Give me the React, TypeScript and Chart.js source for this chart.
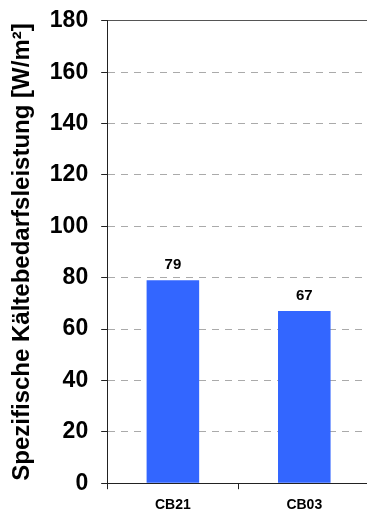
import React, { useEffect, useRef } from "react";
import { Chart, registerables } from "chart.js";

Chart.register(...registerables);

const categories = ["CB21", "CB03"];
const values = [79, 67];
const yTitle = "Spezifische Kältebedarfsleistung [W/m²]";
const yMin = 0;
const yMax = 180;
const yStep = 20;

const FONT = "'Liberation Sans', Arial, Helvetica, sans-serif";

const valueLabels = {
  id: "valueLabels",
  afterDatasetsDraw(chart: any) {
    const { ctx } = chart;
    const meta = chart.getDatasetMeta(0);
    ctx.save();
    ctx.font = `bold 15px ${FONT}`;
    ctx.fillStyle = "#000";
    ctx.textAlign = "center";
    ctx.textBaseline = "middle";
    meta.data.forEach((bar: any, i: number) => {
      ctx.fillText(String(values[i]), bar.x, bar.y - 15);
    });
    ctx.restore();
  },
};

export default function App() {
  const ref = useRef<HTMLCanvasElement | null>(null);
  useEffect(() => {
    if (!ref.current) return;
    const chart = new Chart(ref.current, {
      type: "bar",
      data: {
        labels: categories,
        datasets: [
          {
            data: values,
            backgroundColor: "#3366FF",
            borderWidth: 0,
            barPercentage: 0.4,
            categoryPercentage: 1,
          },
        ],
      },
      options: {
        responsive: false,
        animation: false,
        events: [],
        layout: { padding: { left: 4, top: 0, right: 0, bottom: 0 } },
        plugins: {
          legend: { display: false },
          tooltip: { enabled: false },
        },
        scales: {
          x: {
            grid: {
              drawOnChartArea: false,
              drawTicks: true,
              tickLength: 6,
              tickColor: "#222",
              offset: true,
            },
            border: { display: true, color: "#222", width: 1 },
            ticks: {
              color: "#000",
              font: { family: FONT, size: 14, weight: "bold" },
              padding: 8,
              maxRotation: 0,
            },
          },
          y: {
            min: yMin,
            max: yMax,
            grid: {
              color: (c: any) =>
                c.tick && c.tick.value === yMin
                  ? "rgba(0,0,0,0)"
                  : c.tick && c.tick.value === yMax
                  ? "#555"
                  : "#aaa",
              tickLength: 6,
              tickColor: "#222",
              lineWidth: 1,
            },
            border: {
              display: true,
              color: "#222",
              width: 1,
              dash: (c: any) => (c.tick && c.tick.value === yMax ? [] : [7, 6]),
            },
            ticks: {
              stepSize: yStep,
              color: "#000",
              font: { family: FONT, size: 23, weight: "bold" },
              padding: 13,
            },
            title: {
              display: true,
              text: yTitle,
              color: "#000",
              font: { family: FONT, size: 24, weight: "bold" },
              padding: { top: 4, bottom: 0 },
            },
          },
        },
      },
      plugins: [valueLabels],
    });
    return () => chart.destroy();
  }, []);

  return (
    <div
      style={{
        position: "fixed",
        left: 0,
        top: 0,
        width: 367,
        height: 513,
        overflow: "hidden",
        background: "#fff",
      }}
    >
      <canvas
        ref={ref}
        width={370}
        height={528}
        style={{ display: "block", position: "relative", top: -6 }}
      />
    </div>
  );
}
